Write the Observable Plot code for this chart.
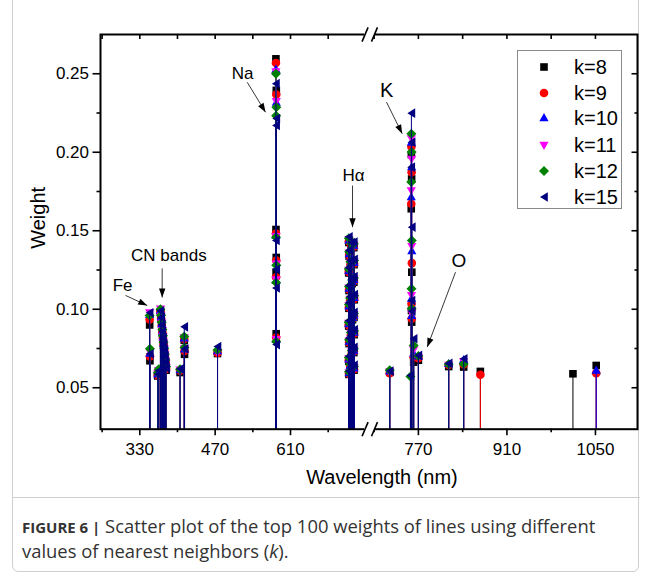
<!DOCTYPE html>
<html><head><meta charset="utf-8">
<script src="https://cdn.jsdelivr.net/npm/d3@7"></script>
<script src="https://cdn.jsdelivr.net/npm/@observablehq/plot@0.6"></script>
<style>
body{margin:0;background:#fff;}
#wrap{position:relative;width:647px;height:575px;overflow:hidden;background:#fff;}
#chart{position:absolute;left:0;top:0;}
#box{position:absolute;left:12px;top:-8px;width:627px;height:580px;border:1px solid #cfcfcf;border-radius:6px;box-sizing:border-box;}
#sep{position:absolute;left:12px;width:628px;top:497px;border-top:1px solid #cfcfcf;}
#legend{position:absolute;left:517px;top:50px;width:105px;height:159px;border:1px solid #8a8a8a;box-sizing:border-box;background:#fff;font-family:"Liberation Sans",Arial,sans-serif;font-size:20px;color:#000;}
.lrow{position:absolute;left:0;height:26px;width:104px;}
.lrow svg{position:absolute;left:16px;top:3px;}
.lrow span{position:absolute;left:56px;top:1px;line-height:24px;}
#caption{position:absolute;left:22px;top:514px;width:600px;font-family:"Open Sans",sans-serif;font-size:18.4px;line-height:23px;color:#333;}
#caption b{font-size:15px;}
</style></head><body>
<div id="wrap">
  <div id="box"></div>
  <div id="chart"></div>
  <div id="legend"></div>
  <div id="sep"></div>
  <div id="caption"><b>FIGURE 6 |</b> Scatter plot of the top 100 weights of lines using different values of nearest neighbors (<i>k</i>).</div>
</div>
<script>
// ---------------- data ----------------
const seriesNames  = ["k=8", "k=9", "k=10", "k=11", "k=12", "k=15"];
const seriesColors = ["#000000", "#ff0000", "#0000ff", "#ff00ff", "#008000", "#000080"];

// segment: 0 = left part of the broken axis, 1 = right part
const segment = [
  0,0, 0,0,0,0,0,0,0,0,0,0,0,0, 0,0,0,0,
  0,0,0,0,0,0,0,
  0,0,0,0,0,0,0,0,0,0,0,0,0,0,0,0,0, 0,0,0,0,0,0,0,0,
  1,1,1,1,1,1,1,1,1,1,1,1,1,1,1
];
const wavelength = [
  348.3, 348.8,
  363.3, 365.2, 368.4, 369.6, 370.8, 371.9, 373.1, 374.2, 375.4, 376.6, 377.8, 378.9,
  404.8, 412.6, 413.1, 474.4,
  582.9, 583.6, 583.3, 583.0, 583.5, 583.2, 583.4,
  718.4, 727.6, 718.9, 728.1, 718.2, 727.8, 718.7, 728.3, 718.5, 727.9, 718.1, 728.2, 718.8, 727.7, 718.3, 728.0, 718.6,
  723.0, 721.5, 724.5, 720.6, 725.2, 722.1, 723.8, 720.9,
  724.7, 757.4, 758.9, 759.3, 758.7, 759.6, 759.1, 759.4, 762.5, 770.0, 817.9, 841.6, 868.0, 1014.4, 1051.2
];
const k8 = [
  0.0900, 0.0672,
  0.0575, 0.0602, 0.0978, 0.0935, 0.0889, 0.0846, 0.0808, 0.0768, 0.0731, 0.0694, 0.0655, 0.0612,
  0.0597, 0.0802, 0.0713, 0.0718,
  0.2595, 0.2394, null, 0.1508, 0.1330, 0.1236, 0.0844,
  0.1425, 0.1392, 0.1338, 0.1284, 0.1231, 0.1172, 0.1119, 0.1060, 0.1006, 0.0948, 0.0893, 0.0838, 0.0781, 0.0724, 0.0668, 0.0612, 0.0585,
  0.1393, 0.1278, 0.1163, 0.1048, 0.0933, 0.0828, 0.0750, 0.0628,
  0.0598, null, 0.1985, 0.1830, 0.1640, 0.1236, 0.0992, 0.0918, 0.0663, 0.0675, 0.0635, 0.0632, 0.0604, 0.0589, 0.0642
];
const k9 = [
  0.0935, 0.0700,
  0.0580, 0.0610, 0.0985, 0.0942, 0.0896, 0.0852, 0.0815, 0.0775, 0.0737, 0.0700, 0.0662, 0.0620,
  0.0608, 0.0810, 0.0735, 0.0722,
  0.2568, 0.2368, null, 0.1482, 0.1310, 0.1204, 0.0820,
  0.1432, 0.1398, 0.1345, 0.1290, 0.1238, 0.1180, 0.1126, 0.1066, 0.1012, 0.0955, 0.0899, 0.0844, 0.0788, 0.0731, 0.0675, 0.0618, 0.0590,
  0.1399, 0.1284, 0.1169, 0.1054, 0.0939, 0.0834, 0.0719, 0.0634,
  0.0592, null, 0.2035, 0.1873, 0.1672, 0.1294, 0.1035, 0.0939, 0.0695, 0.0688, 0.0645, 0.0648, 0.0583, null, 0.0593
];
const k10 = [
  0.0965, 0.0718,
  0.0585, 0.0606, 0.0992, 0.0950, 0.0905, 0.0860, 0.0821, 0.0780, 0.0742, 0.0705, 0.0667, 0.0626,
  0.0612, 0.0815, 0.0745, 0.0733,
  0.2527, 0.2316, null, 0.1470, 0.1296, 0.1182, 0.0805,
  0.1438, 0.1405, 0.1352, 0.1296, 0.1244, 0.1187, 0.1132, 0.1073, 0.1019, 0.0962, 0.0906, 0.0851, 0.0794, 0.0737, 0.0681, 0.0624, 0.0594,
  0.1405, 0.1290, 0.1175, 0.1060, 0.0945, 0.0840, 0.0725, 0.0640,
  0.0605, null, 0.2062, 0.1905, 0.1714, 0.1370, 0.1068, 0.0958, 0.0718, 0.0700, 0.0652, 0.0678, null, null, 0.0610
];
const k11 = [
  0.0980, 0.0730,
  0.0590, 0.0612, 0.1003, 0.0958, 0.0912, 0.0866, 0.0827, 0.0786, 0.0748, 0.0710, 0.0671, 0.0631,
  0.0615, 0.0820, 0.0750, 0.0726,
  0.2515, 0.2325, null, 0.1465, 0.1290, 0.1190, 0.0810,
  0.1445, 0.1411, 0.1360, 0.1303, 0.1250, 0.1193, 0.1138, 0.1080, 0.1025, 0.0968, 0.0912, 0.0857, 0.0800, 0.0743, 0.0687, 0.0630, 0.0598,
  0.1411, 0.1296, 0.1181, 0.1066, 0.0951, 0.0846, 0.0731, 0.0646,
  0.0602, null, 0.2088, 0.1958, 0.1757, 0.1402, 0.1090, 0.0975, 0.0742, 0.0695, 0.0646, 0.0668, null, null, null
];
const k12 = [
  0.0960, 0.0748,
  0.0595, 0.0618, 0.1000, 0.0962, 0.0918, 0.0871, 0.0832, 0.0790, 0.0752, 0.0714, 0.0676, 0.0636,
  0.0618, 0.0826, 0.0757, 0.0740,
  0.2500, 0.2287, 0.2232, 0.1458, 0.1280, 0.1170, 0.0795,
  0.1452, 0.1418, 0.1366, 0.1310, 0.1257, 0.1199, 0.1145, 0.1086, 0.1031, 0.0973, 0.0918, 0.0862, 0.0806, 0.0749, 0.0692, 0.0636, 0.0602,
  0.1417, 0.1302, 0.1187, 0.1072, 0.0957, 0.0852, 0.0737, 0.0652,
  0.0612, 0.0572, 0.2118, 0.2001, 0.1810, 0.1438, 0.1130, 0.1003, 0.0769, 0.0703, 0.0650, 0.0652, null, null, null
];
const k15 = [
  0.0978, 0.0716,
  0.0588, 0.0608, 0.0990, 0.0948, 0.0902, 0.0858, 0.0818, 0.0779, 0.0740, 0.0702, 0.0664, 0.0624,
  0.0621, 0.0888, 0.0748, 0.0763,
  0.2437, 0.2215, 0.2171, 0.1438, 0.1255, 0.1135, 0.0775,
  0.1462, 0.1428, 0.1374, 0.1318, 0.1265, 0.1208, 0.1152, 0.1094, 0.1040, 0.0981, 0.0927, 0.0870, 0.0815, 0.0758, 0.0700, 0.0644, 0.0606,
  0.1425, 0.1310, 0.1195, 0.1080, 0.0965, 0.0860, 0.0745, 0.0660,
  0.0606, 0.0578, 0.2249, 0.2064, 0.1905, 0.1523, 0.1056, 0.0988, 0.0812, 0.0706, 0.0655, 0.0685, null, null, null
];
const seriesWeights = [k8, k9, k10, k11, k12, k15];

// axis ticks (nm), per segment
const leftMajorTicks  = [330, 470, 610];
const leftMinorTicks  = [260, 400, 540, 680];
const rightMajorTicks = [770, 910, 1050];
const rightMinorTicks = [700, 840, 980];
const yMajorTicks = [0.05, 0.10, 0.15, 0.20, 0.25];
const yMinorTicks = [0.075, 0.125, 0.175, 0.225];

// annotations
const annLabels = ["Fe", "CN bands", "Na", "H\u03b1", "K", "O"];
const annSeg    = [0, 0, 0, 0, 1, 1];
const annX      = [298, 384, 521, 727, 720, 834];
const annY      = [0.1151, 0.1343, 0.2504, 0.1852, 0.2394, 0.1311];
const annSize   = [17, 17, 17, 17, 20, 19];
const arrowSeg  = [0, 0, 0, 0, 1, 1];
const arrowX1   = [303.5, 371.6, 529.6, 725.2, 719.6, 828.7];
const arrowY1   = [0.1088, 0.1260, 0.2446, 0.1788, 0.2319, 0.1236];
const arrowX2   = [343.8, 371.6, 563.6, 725.2, 744.4, 784.0];
const arrowY2   = [0.1024, 0.1075, 0.2255, 0.1523, 0.2118, 0.0759];

// ---------------- broken axis setup ----------------
const segOffset = 100;              // right segment shifted in the virtual x coordinate
const xDomain = [257, 758.6, 699 + segOffset, 1116.5 + segOffset];
const xRange  = [100, 370, 373, 637];
const yDomain = [0.0236, 0.275];
const W = 647, H = 495, mT = 34, mB = 66.3, mL = 100, mR = 10;
const toU = (w, seg) => seg ? w + segOffset : w;
const fromU = u => u > xDomain[1] ? u - segOffset : u;
const noLabel = () => "";

const records = [];
seriesNames.forEach((name, s) => {
  seriesWeights[s].forEach((v, i) => {
    if (v != null) records.push({series: name, s, u: toU(wavelength[i], segment[i]), weight: v});
  });
});

// symbols (drawn with fixed pixel sizes)
const poly = pts => ({draw(ctx) { ctx.moveTo(pts[0][0], pts[0][1]); for (let i = 1; i < pts.length; ++i) ctx.lineTo(pts[i][0], pts[i][1]); ctx.closePath(); }});
const symbols = [
  {draw(ctx) { ctx.rect(-3.8, -3.8, 7.6, 7.6); }},
  {draw(ctx) { ctx.moveTo(4.3, 0); ctx.arc(0, 0, 4.3, 0, 2 * Math.PI); }},
  poly([[0, -4.9], [4.6, 3.2], [-4.6, 3.2]]),
  poly([[0, 4.9], [4.6, -3.2], [-4.6, -3.2]]),
  poly([[0, -5], [5, 0], [0, 5], [-5, 0]]),
  poly([[-4, 0], [3.8, -4.8], [3.8, 4.8]])
];

const xs = d3.scaleLinear().domain(xDomain).range(xRange);
const ys = d3.scaleLinear().domain(yDomain).range([H - mB, mT]);

const arrows = arrowX1.map((x, i) => ({
  x1: toU(x, arrowSeg[i]), y1: arrowY1[i], x2: toU(arrowX2[i], arrowSeg[i]), y2: arrowY2[i]
}));
function headSymbol(a) {
  const ang = Math.atan2(ys(a.y2) - ys(a.y1), xs(a.x2) - xs(a.x1));
  const L = 9, w = 3.2, c = Math.cos(ang), s = Math.sin(ang);
  return poly([[0, 0], [-L * c + w * s, -L * s - w * c], [-L * c - w * s, -L * s + w * c]]);
}
const annotations = annLabels.map((t, i) => ({text: t, x: toU(annX[i], annSeg[i]), y: annY[i], size: annSize[i]}));

const fontFamily = "'Liberation Sans', Arial, sans-serif";
const majorU = [...leftMajorTicks.map(t => toU(t, 0)), ...rightMajorTicks.map(t => toU(t, 1))];
const minorU = [...leftMinorTicks.map(t => toU(t, 0)), ...rightMinorTicks.map(t => toU(t, 1))];

// break marks
const breakWhite = [{x1: 747.5, x2: 800.6, y1: yDomain[0] - 0.002, y2: yDomain[0] + 0.002},
                    {x1: 747.5, x2: 800.6, y1: yDomain[1] - 0.002, y2: yDomain[1] + 0.002}];
const breakSlashes = [];
for (const yb of yDomain) {
  breakSlashes.push({x1: 742.9, x2: 754.1, y1: yb - 0.0045, y2: yb + 0.0045});
  breakSlashes.push({x1: 772, x2: 805.3, y1: yb - 0.0045, y2: yb + 0.0045});
}

const marks = [];
seriesNames.forEach((name, s) => {
  const d = records.filter(r => r.s === s);
  marks.push(Plot.ruleX(d, {x: "u", y1: yDomain[0], y2: "weight", stroke: seriesColors[s], strokeWidth: 1}));
  marks.push(Plot.dot(d, {x: "u", y: "weight", symbol: symbols[s], fill: seriesColors[s], stroke: "none"}));
});

const chart = Plot.plot({
  width: W, height: H,
  marginTop: mT, marginBottom: mB, marginLeft: mL, marginRight: mR,
  style: {fontFamily, fontSize: "17px", color: "#000", background: "transparent", overflow: "visible"},
  x: {type: "linear", domain: xDomain, range: xRange, label: null},
  y: {domain: yDomain, label: null},
  marks: [
    ...marks,
    Plot.frame({stroke: "#000", strokeWidth: 2}),
    Plot.axisX({ticks: majorU, tickSize: 6.5, tickPadding: 7, tickFormat: u => String(fromU(u)), fontSize: 17, label: null, strokeWidth: 1.6}),
    Plot.axisX({ticks: minorU, tickSize: 3.5, tickFormat: noLabel, label: null, strokeWidth: 1.6}),
    Plot.axisX({anchor: "top", ticks: [...majorU, ...minorU], tickSize: -4, tickFormat: noLabel, label: null, strokeWidth: 1.6}),
    Plot.axisY({ticks: yMajorTicks, tickSize: 7.5, tickPadding: 4, tickFormat: d3.format(".2f"), fontSize: 17, label: null, strokeWidth: 1.6}),
    Plot.axisY({ticks: yMinorTicks, tickSize: 3.5, tickFormat: noLabel, label: null, strokeWidth: 1.6}),
    Plot.axisY({anchor: "right", ticks: yMajorTicks, tickSize: -6.5, tickFormat: noLabel, label: null, strokeWidth: 1.6}),
    Plot.axisY({anchor: "right", ticks: yMinorTicks, tickSize: -3.5, tickFormat: noLabel, label: null, strokeWidth: 1.6}),
    Plot.rect(breakWhite, {x1: "x1", x2: "x2", y1: "y1", y2: "y2", fill: "white"}),
    Plot.link(breakSlashes, {x1: "x1", x2: "x2", y1: "y1", y2: "y2", stroke: "#000", strokeWidth: 1.6}),
    Plot.text(["Wavelength (nm)"], {frameAnchor: "bottom", dx: 13, dy: 55, fontSize: 20, fill: "#000"}),
    Plot.text(["Weight"], {frameAnchor: "left", textAnchor: "middle", rotate: -90, dx: -62, dy: -14, fontSize: 20, fill: "#000"}),
    Plot.link(arrows, {x1: "x1", y1: "y1", x2: "x2", y2: "y2", stroke: "#222", strokeWidth: 0.9}),
    ...arrows.map(a => Plot.dot([a], {x: "x2", y: "y2", symbol: headSymbol(a), fill: "#000", stroke: "none"})),
    Plot.text(annotations, {x: "x", y: "y", text: "text", fontSize: d => d.size, fill: "#000"})
  ]
});
document.getElementById("chart").appendChild(chart);

// legend
const legend = document.getElementById("legend");
const rowTops = [2.5, 28.5, 54, 80.5, 106.5, 132.5];
seriesNames.forEach((name, s) => {
  const row = document.createElement("div");
  row.className = "lrow";
  row.style.top = rowTops[s] + "px";
  const p = d3.path();
  symbols[s].draw(p);
  row.innerHTML = `<svg width="20" height="20" viewBox="-10 -10 20 20"><path d="${p.toString()}" fill="${seriesColors[s]}"/></svg><span>${name}</span>`;
  legend.appendChild(row);
});
</script>
</body></html>
